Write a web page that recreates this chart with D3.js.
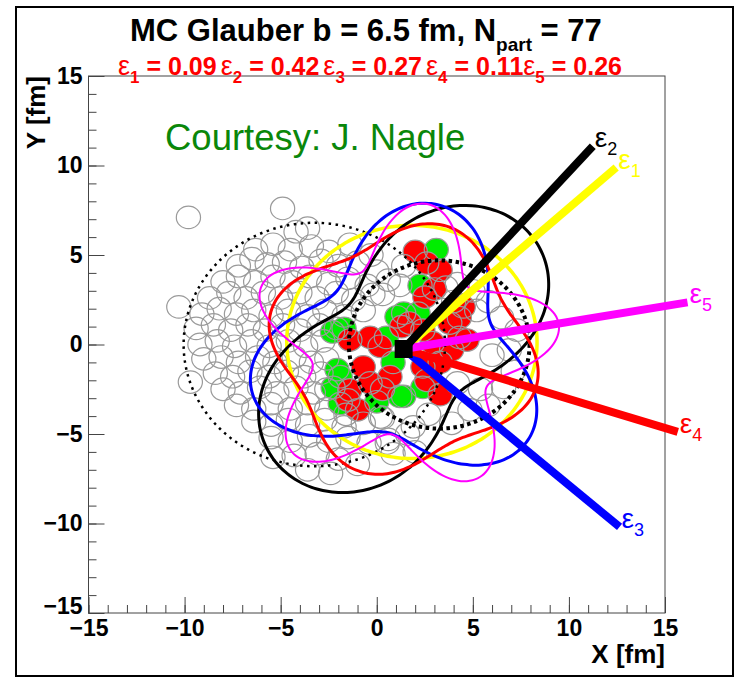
<!DOCTYPE html>
<html><head><meta charset="utf-8">
<script src="https://cdn.jsdelivr.net/npm/d3@7"></script>
<style>body{margin:0;background:#fff}</style>
</head><body>
<svg id="c" width="740" height="678"></svg>
<script>
// ---------- data ----------
const xTickValues = [-15, -10, -5, 0, 5, 10, 15];
const yTickValues = [-15, -10, -5, 0, 5, 10, 15];
const harmonicOrder = [1, 2, 3, 4, 5];
const epsilonValues = [0.09, 0.42, 0.27, 0.11, 0.26];
const planeAngleDeg = [42.5, 49, -41.5, -18, 10];
const participantCenter = [1.4, -0.25];
const contourRadius = 6.5;
const axisLength = 15;
const nucleusCenterX = [-3.25, 3.25];
const nucleusRadius = [6.8, 4.7];
const nucleonRadius = 0.63;
const impactParameter = 6.5;
const nPart = 77;

const spectators = [
 [-9.8,7.1],[-4.9,7.6],[-4.2,6.3],[-3.6,6.5],[-10.3,2.1],[-9.7,-2.1],
 [-6.3,5.3],[-5.4,5.6],[-4.5,5.3],[-3.4,5.5],[-2.5,5.2],[-1.4,5.6],[-0.3,5.0],
 [-7.2,4.4],[-6.5,4.8],[-5.7,4.5],[-4.8,4.6],[-3.9,4.3],[-2.9,4.7],[-2.0,4.4],[-1.0,4.6],[0.0,4.1],
 [-8.0,3.5],[-7.2,3.8],[-6.3,3.5],[-5.4,3.8],[-4.4,3.5],[-3.5,3.8],[-2.5,3.4],[-1.5,3.7],[-0.5,3.3],[0.6,3.6],
 [-8.7,2.6],[-7.7,2.9],[-6.8,2.6],[-5.9,2.9],[-5.0,2.6],[-4.0,2.9],[-3.1,2.6],[-2.1,2.9],[-1.2,2.5],[-0.2,2.8],
 [-9.1,1.7],[-8.2,2.0],[-7.3,1.7],[-6.4,1.9],[-5.5,1.6],[-4.6,1.9],[-3.6,1.6],[-2.7,1.9],[-1.7,1.6],[-0.7,1.9],
 [-9.4,0.9],[-8.5,1.1],[-7.6,0.8],[-6.7,1.1],[-5.8,0.8],[-4.9,1.1],[-4.0,0.8],[-3.0,1.1],[-2.1,0.9],
 [-9.2,0.0],[-8.3,0.2],[-7.4,-0.1],[-6.5,0.2],[-5.6,-0.1],[-4.6,0.2],[-3.7,-0.1],[-2.8,0.2],
 [-9.0,-0.8],[-8.1,-0.7],[-7.2,-1.0],[-6.2,-0.7],[-5.3,-1.0],[-4.3,-0.7],[-3.4,-1.0],[-2.6,-0.8],
 [-8.4,-1.6],[-7.5,-1.8],[-6.6,-1.5],[-5.6,-1.8],[-4.7,-1.5],[-3.8,-1.8],[-2.9,-1.6],
 [-8.0,-2.5],[-7.1,-2.7],[-6.1,-2.4],[-5.2,-2.7],[-4.2,-2.4],[-3.3,-2.7],[-2.6,-2.5],
 [-7.3,-3.4],[-6.4,-3.6],[-5.5,-3.3],[-4.5,-3.6],[-3.6,-3.3],[-2.6,-3.6],[-1.6,-3.9],
 [-6.4,-4.3],[-5.5,-4.5],[-4.6,-4.2],[-3.6,-4.5],[-2.7,-4.2],[-1.7,-4.6],[-0.7,-4.4],[0.3,-4.1],
 [-5.5,-5.2],[-4.5,-5.4],[-3.5,-5.1],[-2.5,-5.4],[-1.5,-5.2],[-0.4,-5.5],[0.6,-5.3],[1.6,-5.0],
 [-5.4,-6.3],[-4.3,-6.2],[-3.1,-6.1],[-2.0,-6.4],[-1.0,-6.7],[0.85,-6.1],[2.0,-6.0],
 [-3.6,-7.0],[-2.4,-7.2],
 [0.3,2.8],[1.2,3.3],[1.4,4.4],[3.6,3.2],[4.0,2.4],
 [4.2,3.4],[5.0,3.0],[5.8,2.4],[5.2,1.9],[6.5,1.5],[7.3,0.8],[6.9,-0.3],[6.0,-0.6],[7.1,-1.5],
 [4.2,-2.15],[5.4,-2.5],[6.6,-2.4],[4.85,-3.65],[5.8,-3.4],[3.9,-4.4],[2.7,-3.9],[1.9,-4.6],[0.2,-4.05],[0.55,-5.5]
];
const participantsGreen = [
 [3.1,5.3],[2.25,3.3],[1.05,1.55],[2.15,1.75],[1.4,1.75],[-2.3,0.7],[0.5,0.4],[0.85,-1.0],
 [-2.07,-1.4],[-1.9,-1.8],[-2.27,-2.4],[1.4,-2.9],[1.2,-2.9],[2.4,-2.4],[-1.9,-3.3],[0.0,-3.2],[-1.7,0.9]
];
const participantsRed = [
 [2.0,5.2],[2.6,4.55],[3.3,4.15],[2.5,2.65],[3.0,3.1],
 [1.7,1.2],[1.3,1.0],[-1.4,0.25],[-0.35,0.4],[0.17,-0.1],[-0.7,-1.25],[-0.35,-2.15],[0.3,-2.5],
 [-1.4,-2.54],[0.69,-1.8],[-1.0,-3.65],[-1.5,-3.1],
 [4.5,2.1],[3.8,1.2],[4.3,0.4],[2.4,0.8],[2.9,0.1],[4.7,0.25],[3.3,-1.0],[2.4,-1.25],
 [3.3,-2.8],[2.6,-2.0],[3.9,-0.3],[4.3,1.5]
];

// ---------- setup ----------
const FONT = "'Liberation Sans', Arial, Helvetica, sans-serif";
const harmonicColors = ['#ffff00', '#000000', '#0000ff', '#ff0000', '#ff00ff'];
const harmonicWidths = [3.5, 3, 3, 3, 2];
const svg = d3.select('#c');
svg.append('rect').attr('x', 0).attr('y', 0).attr('width', 740).attr('height', 678).attr('fill', '#fff');
svg.append('rect').attr('x', 16).attr('y', 7).attr('width', 717).attr('height', 669)
  .attr('fill', 'none').attr('stroke', '#000').attr('stroke-width', 2);

const x = d3.scaleLinear().domain([-15, 15]).range([88.5, 665]);
const y = d3.scaleLinear().domain([-15, 15]).range([613, 76]);
const minorTicks = d3.range(-15, 16, 1);

// axes
const gxMinor = svg.append('g').attr('transform', `translate(0,${y(-15)})`)
  .call(d3.axisBottom(x).tickValues(minorTicks).tickSize(-8).tickSizeOuter(0).tickFormat(''));
const gxMajor = svg.append('g').attr('transform', `translate(0,${y(-15)})`)
  .call(d3.axisBottom(x).tickValues(xTickValues).tickSize(-16).tickSizeOuter(0).tickPadding(6).tickFormat(d3.format('d')));
const gyMinor = svg.append('g').attr('transform', `translate(${x(-15)},0)`)
  .call(d3.axisLeft(y).tickValues(minorTicks).tickSize(-8).tickSizeOuter(0).tickFormat(''));
const gyMajor = svg.append('g').attr('transform', `translate(${x(-15)},0)`)
  .call(d3.axisLeft(y).tickValues(yTickValues).tickSize(-16).tickSizeOuter(0).tickPadding(6).tickFormat(d3.format('d')));
[gxMinor, gxMajor, gyMinor, gyMajor].forEach(g => {
  g.select('.domain').remove();
  g.selectAll('line').attr('stroke', '#444').attr('stroke-width', 1);
  g.selectAll('text').attr('font-family', FONT).attr('font-size', 23).attr('font-weight', 'bold').attr('fill', '#000');
});
gxMajor.selectAll('text').attr('y', 7).attr('dy', '0.71em');
gyMajor.selectAll('text').filter(d => d === -15).attr('dy', '0em');

svg.append('rect').attr('x', x(-15)).attr('y', y(15)).attr('width', x(15) - x(-15)).attr('height', y(-15) - y(15))
  .attr('fill', 'none').attr('stroke', '#444').attr('stroke-width', 1);

// axis titles
svg.append('text').attr('x', x(15)).attr('y', 663).attr('text-anchor', 'end')
  .attr('font-family', FONT).attr('font-size', 26).attr('font-weight', 'bold').text('X [fm]');
svg.append('text').attr('transform', `translate(45,${y(15)}) rotate(-90)`).attr('text-anchor', 'end')
  .attr('font-family', FONT).attr('font-size', 26).attr('font-weight', 'bold').text('Y [fm]');

// title
const title = svg.append('text').attr('x', 130).attr('y', 41)
  .attr('font-family', FONT).attr('font-size', 31).attr('font-weight', 'bold');
title.append('tspan').text(`MC Glauber b = ${impactParameter} fm, N`);
title.append('tspan').attr('font-size', 19).attr('dy', 10).text('part');
title.append('tspan').attr('dy', -10).text(` = ${nPart}`);

// epsilon summary line
const sub = svg.append('text').attr('x', 118).attr('y', 75)
  .attr('font-family', FONT).attr('font-size', 25).attr('font-weight', 'bold').attr('fill', '#ff0000');
harmonicOrder.forEach((n, i) => {
  sub.append('tspan').attr('font-size', 27).attr('font-weight', 'normal').attr('dx', i === 0 || n === 5 ? 0 : 4).text('ε');
  sub.append('tspan').attr('font-size', 17).attr('dy', 8).text(n);
  sub.append('tspan').attr('dy', -8).text(` = ${epsilonValues[i].toFixed(2)}`);
});

// courtesy
svg.append('text').attr('x', 165).attr('y', 150).attr('font-family', FONT).attr('font-size', 36.5)
  .attr('fill', '#0a870a').text('Courtesy: J. Nagle');

// ---------- nucleons ----------
const plot = svg.append('g');
const rx = x(nucleonRadius) - x(0), ry = y(0) - y(nucleonRadius);
plot.selectAll('ellipse.g').data(participantsGreen).join('ellipse').attr('class', 'g')
  .attr('cx', d => x(d[0])).attr('cy', d => y(d[1])).attr('rx', rx).attr('ry', ry).attr('fill', '#00ee00');
plot.selectAll('ellipse.r').data(participantsRed).join('ellipse').attr('class', 'r')
  .attr('cx', d => x(d[0])).attr('cy', d => y(d[1])).attr('rx', rx).attr('ry', ry).attr('fill', '#ff0000');
plot.selectAll('ellipse.o').data(spectators.concat(participantsGreen, participantsRed)).join('ellipse').attr('class', 'o')
  .attr('cx', d => x(d[0])).attr('cy', d => y(d[1])).attr('rx', rx).attr('ry', ry)
  .attr('fill', 'none').attr('stroke', '#9a9a9a').attr('stroke-width', 1.2);

// nuclei outlines
const dashStyles = [{w: 2.5, dash: '2.5,4.5'}, {w: 4, dash: '3.5,3.5'}];
nucleusCenterX.forEach((cx, i) => {
  plot.append('ellipse').attr('cx', x(cx)).attr('cy', y(0))
    .attr('rx', x(nucleusRadius[i]) - x(0)).attr('ry', y(0) - y(nucleusRadius[i]))
    .attr('fill', 'none').attr('stroke', '#000').attr('stroke-width', dashStyles[i].w)
    .attr('stroke-dasharray', dashStyles[i].dash);
});

// ---------- eccentricity contours ----------
const phis = d3.range(0, 360, 2).map(a => a * Math.PI / 180);
const line = d3.line().x(d => x(d[0])).y(d => y(d[1])).curve(d3.curveCardinalClosed);
harmonicOrder.forEach((n, i) => {
  const psi = planeAngleDeg[i] * Math.PI / 180;
  const pts = phis.map(p => {
    const r = contourRadius * (1 + epsilonValues[i] * Math.cos(n * (p - psi)));
    return [participantCenter[0] + r * Math.cos(p), participantCenter[1] + r * Math.sin(p)];
  });
  plot.append('path').attr('d', line(pts)).attr('fill', 'none')
    .attr('stroke', harmonicColors[i]).attr('stroke-width', harmonicWidths[i]);
});

// ---------- plane directions ----------
const drawOrder = [0, 2, 3, 4, 1];
drawOrder.forEach(i => {
  const psi = planeAngleDeg[i] * Math.PI / 180;
  const ex = participantCenter[0] + axisLength * Math.cos(psi);
  const ey = participantCenter[1] + axisLength * Math.sin(psi);
  plot.append('line').attr('x1', x(participantCenter[0])).attr('y1', y(participantCenter[1]))
    .attr('x2', x(ex)).attr('y2', y(ey)).attr('stroke', harmonicColors[i]).attr('stroke-width', 8);
  const t = svg.append('text').attr('x', x(ex) + 2).attr('y', y(ey) + 1)
    .attr('font-family', FONT).attr('fill', harmonicColors[i]);
  t.append('tspan').attr('font-size', 28).text('ε');
  t.append('tspan').attr('font-size', 18).attr('dy', 8).text(harmonicOrder[i]);
});
plot.append('rect').attr('x', x(participantCenter[0]) - 9).attr('y', y(participantCenter[1]) - 9)
  .attr('width', 18).attr('height', 18).attr('fill', '#000');
</script>
</body></html>
